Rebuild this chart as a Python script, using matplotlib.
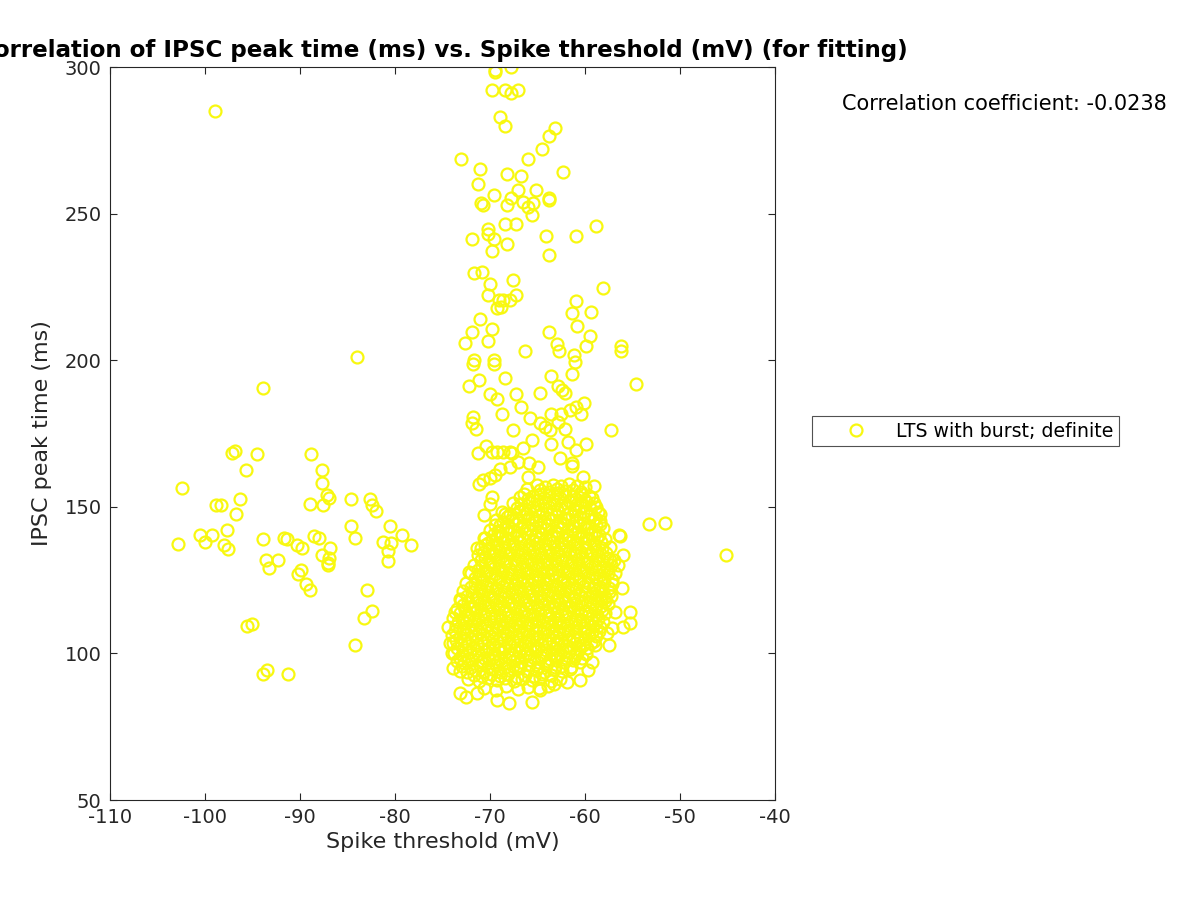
import numpy as np
import matplotlib
matplotlib.use("Agg")
import matplotlib.pyplot as plt

plt.rcParams['axes.unicode_minus'] = False

# scattered cells left of the main cluster (spike threshold mV, IPSC peak ms)
left_pts = [
    (-99.0, 285.0), (-84.0, 201.0), (-93.9, 190.4),
    (-97.2, 168.5), (-96.8, 169.0), (-95.7, 162.5), (-94.5, 168.0), (-96.3, 152.5),
    (-98.8, 150.5), (-98.3, 150.5), (-97.7, 142.0), (-96.7, 147.5), (-100.5, 140.5),
    (-100.0, 138.0), (-99.3, 140.5), (-98.0, 137.0), (-97.6, 135.5), (-102.4, 156.3),
    (-102.8, 137.2), (-93.9, 139.0), (-93.6, 132.0), (-93.3, 129.0), (-92.3, 132.0),
    (-91.7, 139.5), (-91.4, 139.0), (-90.3, 137.0), (-89.8, 136.0), (-90.2, 127.0),
    (-89.9, 128.5), (-89.4, 123.5), (-88.9, 121.5), (-89.0, 151.0), (-88.8, 168.0),
    (-88.5, 140.0), (-88.0, 139.5), (-87.7, 162.5), (-87.7, 158.0), (-87.6, 150.5),
    (-87.2, 154.0), (-86.9, 153.0), (-87.7, 133.5), (-87.1, 131.0), (-87.1, 130.0),
    (-86.9, 132.5), (-86.8, 136.0), (-84.6, 152.5), (-84.6, 143.5), (-84.2, 139.5),
    (-82.6, 152.5), (-82.4, 150.5), (-82.0, 148.5), (-81.3, 138.0), (-80.7, 131.5),
    (-80.7, 135.0), (-80.4, 137.5), (-80.5, 143.5), (-79.3, 140.5), (-78.3, 137.0),
    (-82.9, 121.5), (-82.4, 114.5), (-83.3, 112.0), (-95.6, 109.5), (-95.1, 110.0),
    (-93.9, 93.0), (-93.5, 94.5), (-91.3, 93.0), (-84.2, 103.0),
]

# cells right of the main cluster
right_pts = [
    (-53.3, 144.0), (-51.6, 144.5), (-45.2, 133.6), (-54.6, 191.9),
    (-56.2, 204.7), (-56.2, 203.2), (-57.3, 176.2),
]

# sparse upper tail of the main cluster
upper_pts = [
    (-69.5, 299.0), (-69.5, 298.4), (-67.8, 299.9), (-69.8, 292.0), (-68.4, 292.0),
    (-67.8, 291.3), (-67.1, 292.0), (-68.9, 282.8), (-68.4, 280.0), (-63.2, 279.3),
    (-63.8, 276.5), (-64.5, 272.1), (-73.1, 268.6), (-66.0, 268.6), (-71.1, 265.1),
    (-68.2, 263.6), (-66.7, 262.9), (-62.3, 264.2), (-71.3, 260.1), (-67.1, 258.0),
    (-65.2, 258.0), (-69.6, 256.4), (-67.8, 255.2), (-63.8, 255.4), (-63.8, 254.6),
    (-70.9, 253.7), (-70.7, 252.9), (-68.2, 253.0), (-66.5, 253.8), (-66.0, 252.4),
    (-65.5, 253.7), (-65.6, 249.4), (-68.4, 246.6), (-67.3, 246.6), (-58.8, 245.8),
    (-71.9, 241.5), (-70.2, 244.6), (-70.2, 243.0), (-69.6, 241.5), (-68.2, 239.5),
    (-69.8, 237.3), (-64.1, 242.4), (-61.0, 242.4), (-63.8, 235.9), (-71.7, 229.6),
    (-70.8, 230.1), (-70.0, 226.0), (-67.6, 227.3), (-58.1, 224.5), (-70.2, 222.3),
    (-67.3, 222.3), (-69.1, 220.5), (-68.6, 220.5), (-67.9, 220.5), (-69.3, 217.7),
    (-68.8, 218.3), (-61.0, 220.3), (-61.4, 216.0), (-59.4, 216.6), (-60.8, 211.7),
    (-71.1, 213.9), (-71.9, 209.7), (-69.8, 210.5), (-70.2, 206.7), (-72.6, 205.9),
    (-63.8, 209.6), (-59.5, 208.3), (-66.3, 203.2), (-63.0, 205.4), (-62.7, 203.2),
    (-59.9, 204.7), (-61.2, 201.8), (-61.1, 199.4), (-71.7, 200.1), (-69.6, 200.1),
    (-71.8, 198.7), (-69.6, 198.7), (-71.2, 193.2), (-72.2, 191.2), (-68.4, 194.0),
    (-63.6, 194.7), (-61.4, 195.3), (-70.0, 188.4), (-69.3, 186.8), (-67.3, 188.4),
    (-64.7, 188.9), (-62.8, 191.2), (-62.4, 190.0), (-62.1, 188.9), (-66.7, 184.1),
    (-68.7, 181.8), (-65.8, 180.4), (-63.6, 181.8), (-62.5, 181.8), (-61.6, 183.0),
    (-60.9, 184.1), (-60.1, 185.5), (-60.4, 181.8), (-71.8, 180.7), (-71.9, 178.5),
    (-71.5, 176.7), (-67.6, 176.2), (-64.7, 178.5), (-64.2, 177.3), (-63.7, 176.2),
    (-62.8, 179.0), (-62.1, 176.7), (-65.6, 172.8), (-63.6, 171.3), (-61.8, 172.2),
    (-59.9, 171.3), (-61.0, 169.5), (-70.4, 170.7), (-71.3, 168.4), (-69.8, 168.6),
    (-69.3, 168.6), (-68.6, 168.7), (-67.9, 168.8), (-67.7, 168.5), (-66.5, 169.9),
    (-62.6, 166.5), (-61.4, 165.0), (-61.4, 164.0), (-65.9, 165.0), (-64.9, 163.7),
    (-69.0, 163.0), (-67.9, 163.6), (-69.5, 160.8), (-70.0, 159.7), (-70.7, 159.1),
    (-71.2, 157.8), (-66.0, 160.0), (-66.8, 153.4), (-66.1, 156.2), (-60.2, 160.0),
    (-59.1, 157.1), (-69.8, 153.4), (-70.0, 150.9), (-70.6, 147.1), (-68.4, 147.7),
    (-58.4, 147.7), (-58.4, 144.3), (-69.5, 143.8), (-69.0, 141.5), (-70.5, 139.2),
    (-56.4, 140.4), (-67.05, 165.3),
]

# outline of the dense cluster
edge_pts = [
    (-72.2, 127.9), (-74.4, 109.1), (-73.7, 114.2), (-73.2, 118.7), (-71.4, 135.8),
    (-70.5, 137.0), (-56.3, 140.0), (-56.0, 133.6), (-56.1, 122.2), (-56.8, 127.3),
    (-56.5, 130.1), (-57.0, 131.9), (-55.3, 114.2), (-55.3, 110.2), (-56.0, 109.1),
    (-56.8, 114.2), (-57.2, 108.5), (-57.7, 106.8), (-57.5, 102.9), (-58.9, 102.9),
    (-59.3, 97.2), (-59.7, 94.3), (-60.5, 90.9), (-61.9, 90.3), (-63.3, 89.5),
    (-64.7, 87.5), (-65.6, 83.5), (-68.0, 83.2), (-69.3, 84.1), (-71.4, 86.4),
    (-72.5, 85.2), (-73.2, 86.5), (-63.2, 99.5), (-58.3, 118.7), (-57.9, 119.3),
    (-74.2, 103.4), (-74.0, 100.0), (-73.9, 94.9),
]

# dense core of the cluster
core_pts = [
    (-70.6, 88.3), (-69.4, 87.6), (-68.3, 88.9), (-67.1, 87.9), (-66.0, 88.6), (-64.8, 88.1), (-63.9, 89.0),
    (-72.3, 91.2), (-71.2, 90.6), (-70.2, 91.5), (-69.3, 90.8), (-68.4, 91.6), (-67.5, 90.7), (-66.6, 91.4),
    (-65.6, 90.9), (-64.7, 91.7), (-63.6, 90.5), (-62.6, 91.3),
    (-73.2, 94.1), (-72.4, 93.6), (-71.6, 94.4), (-70.7, 93.8), (-69.8, 94.6), (-68.9, 93.7), (-68.0, 94.3),
    (-67.1, 94.9), (-66.1, 93.9), (-65.2, 94.5), (-64.3, 93.8), (-63.3, 94.6), (-62.4, 94.0), (-61.6, 94.8),
    (-73.5, 97.3), (-72.7, 96.8), (-71.9, 97.6), (-71.0, 96.9), (-70.1, 97.8), (-69.3, 97.1), (-68.4, 96.6),
    (-67.6, 97.5), (-66.7, 97.0), (-65.8, 97.9), (-64.9, 97.2), (-64.0, 96.7), (-63.1, 97.6), (-62.2, 97.1),
    (-61.3, 97.8), (-60.5, 96.9),
    (-73.8, 100.2), (-73.0, 99.6), (-72.1, 100.5), (-71.3, 99.8), (-70.4, 100.7), (-69.6, 99.9), (-68.7, 100.4),
    (-67.8, 99.7), (-67.0, 100.6), (-66.1, 100.0), (-65.2, 100.8), (-64.4, 99.6), (-63.5, 100.3), (-62.6, 99.8),
    (-61.7, 100.6), (-60.8, 100.1), (-59.9, 99.7),
    (-73.9, 103.4), (-73.1, 102.8), (-72.3, 103.6), (-71.4, 102.9), (-70.6, 103.7), (-69.7, 103.1), (-68.9, 102.6),
    (-68.0, 103.5), (-67.2, 102.9), (-66.3, 103.8), (-65.5, 103.0), (-64.6, 102.7), (-63.8, 103.6), (-62.9, 103.1),
    (-62.0, 102.6), (-61.1, 103.4), (-60.2, 102.9), (-59.4, 103.5),
    (-74.0, 106.2), (-73.2, 105.7), (-72.4, 106.5), (-71.6, 105.9), (-70.7, 106.7), (-69.9, 106.0), (-69.0, 105.6),
    (-68.2, 106.4), (-67.3, 105.8), (-66.5, 106.6), (-65.6, 106.1), (-64.8, 105.5), (-63.9, 106.3), (-63.1, 105.9),
    (-62.2, 106.8), (-61.3, 106.0), (-60.5, 105.6), (-59.6, 106.4), (-58.8, 105.9),
    (-73.6, 109.4), (-72.8, 108.8), (-71.9, 109.6), (-71.1, 109.0), (-70.3, 109.8), (-69.4, 109.1), (-68.6, 108.7),
    (-67.7, 109.5), (-66.9, 108.9), (-66.0, 109.7), (-65.2, 109.2), (-64.3, 108.6), (-63.5, 109.4), (-62.6, 109.0),
    (-61.8, 109.8), (-60.9, 109.1), (-60.1, 108.6), (-59.2, 109.3), (-58.4, 108.9),
    (-73.9, 112.1), (-73.0, 111.6), (-72.2, 112.5), (-71.3, 111.8), (-70.5, 112.7), (-69.6, 112.0), (-68.8, 111.5),
    (-67.9, 112.3), (-67.1, 111.7), (-66.2, 112.6), (-65.4, 112.1), (-64.5, 111.4), (-63.7, 112.2), (-62.8, 111.8),
    (-62.0, 112.7), (-61.1, 111.9), (-60.3, 111.4), (-59.4, 112.2), (-58.6, 111.7),
    (-73.5, 115.3), (-72.6, 114.8), (-71.8, 115.6), (-70.9, 115.0), (-70.1, 115.8), (-69.2, 115.1), (-68.4, 114.7),
    (-67.5, 115.5), (-66.7, 114.9), (-65.8, 115.7), (-65.0, 115.2), (-64.1, 114.6), (-63.3, 115.4), (-62.4, 115.0),
    (-61.6, 115.8), (-60.7, 115.1), (-59.9, 114.6), (-59.0, 115.3), (-58.2, 114.8),
    (-73.1, 118.2), (-72.3, 117.7), (-71.4, 118.5), (-70.6, 117.9), (-69.7, 118.7), (-68.9, 118.0), (-68.0, 117.6),
    (-67.2, 118.4), (-66.3, 117.8), (-65.5, 118.6), (-64.6, 118.1), (-63.8, 117.5), (-62.9, 118.3), (-62.1, 117.9),
    (-61.2, 118.7), (-60.4, 118.0), (-59.5, 117.5), (-58.7, 118.2), (-57.9, 117.8),
    (-72.8, 121.4), (-71.9, 120.8), (-71.1, 121.6), (-70.2, 121.0), (-69.4, 121.8), (-68.5, 121.1), (-67.7, 120.7),
    (-66.8, 121.5), (-66.0, 120.9), (-65.1, 121.7), (-64.3, 121.2), (-63.4, 120.6), (-62.6, 121.4), (-61.7, 121.0),
    (-60.9, 121.8), (-60.0, 121.1), (-59.2, 120.6), (-58.3, 121.3), (-57.5, 120.9),
    (-72.5, 124.1), (-71.6, 123.6), (-70.8, 124.5), (-69.9, 123.8), (-69.1, 124.7), (-68.2, 124.0), (-67.4, 123.5),
    (-66.5, 124.3), (-65.7, 123.7), (-64.8, 124.6), (-64.0, 124.1), (-63.1, 123.4), (-62.3, 124.2), (-61.4, 123.8),
    (-60.6, 124.7), (-59.7, 123.9), (-58.9, 123.4), (-58.0, 124.2), (-57.2, 123.7),
    (-72.0, 127.3), (-71.2, 126.8), (-70.3, 127.6), (-69.5, 127.0), (-68.6, 127.8), (-67.8, 127.1), (-66.9, 126.7),
    (-66.1, 127.5), (-65.2, 126.9), (-64.4, 127.7), (-63.5, 127.2), (-62.7, 126.6), (-61.8, 127.4), (-61.0, 127.0),
    (-60.1, 127.8), (-59.3, 127.1), (-58.4, 126.6), (-57.6, 127.3),
    (-71.7, 130.2), (-70.8, 129.7), (-70.0, 130.5), (-69.1, 129.9), (-68.3, 130.7), (-67.4, 130.0), (-66.6, 129.6),
    (-65.7, 130.4), (-64.9, 129.8), (-64.0, 130.6), (-63.2, 130.1), (-62.3, 129.5), (-61.5, 130.3), (-60.6, 129.9),
    (-59.8, 130.7), (-58.9, 130.0), (-58.1, 129.5), (-57.3, 130.2),
    (-71.3, 133.4), (-70.5, 132.8), (-69.6, 133.6), (-68.8, 133.0), (-67.9, 133.8), (-67.1, 133.1), (-66.2, 132.7),
    (-65.4, 133.5), (-64.5, 132.9), (-63.7, 133.7), (-62.8, 133.2), (-62.0, 132.6), (-61.1, 133.4), (-60.3, 133.0),
    (-59.4, 133.8), (-58.6, 133.1), (-57.7, 132.6),
    (-71.0, 136.1), (-70.1, 135.6), (-69.3, 136.5), (-68.4, 135.8), (-67.6, 136.7), (-66.7, 136.0), (-65.9, 135.5),
    (-65.0, 136.3), (-64.2, 135.7), (-63.3, 136.6), (-62.5, 136.1), (-61.6, 135.4), (-60.8, 136.2), (-59.9, 135.8),
    (-59.1, 136.7), (-58.2, 135.9), (-57.4, 136.4),
    (-70.6, 139.3), (-69.8, 138.8), (-68.9, 139.6), (-68.1, 139.0), (-67.2, 139.8), (-66.4, 139.1), (-65.5, 138.7),
    (-64.7, 139.5), (-63.8, 138.9), (-63.0, 139.7), (-62.1, 139.2), (-61.3, 138.6), (-60.4, 139.4), (-59.6, 139.0),
    (-58.7, 139.8), (-57.9, 139.1),
    (-70.0, 142.2), (-69.2, 141.7), (-68.3, 142.5), (-67.5, 141.9), (-66.6, 142.7), (-65.8, 142.0), (-64.9, 141.6),
    (-64.1, 142.4), (-63.2, 141.8), (-62.4, 142.6), (-61.5, 142.1), (-60.7, 141.5), (-59.8, 142.3), (-59.0, 141.9),
    (-58.1, 142.6),
    (-69.4, 145.4), (-68.6, 144.8), (-67.7, 145.6), (-66.9, 145.0), (-66.0, 145.8), (-65.2, 145.1), (-64.3, 144.7),
    (-63.5, 145.5), (-62.6, 144.9), (-61.8, 145.7), (-60.9, 145.2), (-60.1, 144.6), (-59.2, 145.4), (-58.4, 145.0),
    (-68.7, 148.1), (-67.9, 147.6), (-67.0, 148.5), (-66.2, 147.8), (-65.3, 148.7), (-64.5, 148.0), (-63.6, 147.5),
    (-62.8, 148.3), (-61.9, 147.7), (-61.1, 148.6), (-60.2, 148.1), (-59.4, 147.4), (-58.6, 148.2),
    (-67.6, 151.3), (-66.7, 150.8), (-65.9, 151.6), (-65.0, 151.0), (-64.2, 151.8), (-63.3, 151.1), (-62.5, 150.7),
    (-61.6, 151.5), (-60.8, 150.9), (-59.9, 151.7), (-59.1, 151.2),
    (-66.4, 154.2), (-65.5, 153.7), (-64.7, 154.5), (-63.8, 153.9), (-63.0, 154.7), (-62.1, 154.0), (-61.3, 153.6),
    (-60.4, 154.4), (-59.6, 153.8),
    (-65.1, 157.3), (-64.2, 156.8), (-63.4, 157.6), (-62.5, 157.0), (-61.7, 157.8), (-60.8, 157.1), (-60.0, 156.6),
]

# more cells packed between the core rows
core_fill_pts = [
    (-71.7, 92.8), (-70.8, 92.2), (-69.9, 93.0), (-69.0, 92.4), (-68.1, 92.9), (-67.2, 92.1), (-66.3, 92.7),
    (-65.4, 92.3), (-64.5, 93.0), (-63.6, 92.5),
    (-72.9, 95.7), (-72.0, 95.2), (-71.1, 96.0), (-70.2, 95.4), (-69.4, 95.9), (-68.5, 95.1), (-67.6, 95.8),
    (-66.8, 95.3), (-65.9, 96.0), (-65.0, 95.5), (-64.1, 95.9), (-63.2, 95.2), (-62.4, 95.7), (-61.5, 95.3),
    (-73.2, 98.6), (-72.3, 98.2), (-71.5, 99.0), (-70.6, 98.4), (-69.7, 98.9), (-68.9, 98.1), (-68.0, 98.8),
    (-67.2, 98.3), (-66.3, 99.0), (-65.4, 98.5), (-64.6, 98.9), (-63.7, 98.2), (-62.9, 98.7), (-62.0, 98.3),
    (-61.1, 99.0), (-60.3, 98.4),
    (-73.5, 101.7), (-72.6, 101.2), (-71.8, 102.0), (-70.9, 101.4), (-70.1, 101.9), (-69.2, 101.1), (-68.4, 101.8),
    (-67.5, 101.3), (-66.6, 102.0), (-65.8, 101.5), (-64.9, 101.9), (-64.1, 101.2), (-63.2, 101.7), (-62.4, 101.3),
    (-61.5, 102.0), (-60.6, 101.4), (-59.8, 101.8),
    (-73.6, 104.6), (-72.7, 104.2), (-71.9, 105.0), (-71.0, 104.4), (-70.2, 104.9), (-69.3, 104.1), (-68.5, 104.8),
    (-67.6, 104.3), (-66.8, 105.0), (-65.9, 104.5), (-65.1, 104.9), (-64.2, 104.2), (-63.4, 104.7), (-62.5, 104.3),
    (-61.7, 105.0), (-60.8, 104.4), (-60.0, 104.8), (-59.1, 104.2),
    (-73.7, 107.7), (-72.8, 107.2), (-72.0, 108.0), (-71.2, 107.4), (-70.3, 107.9), (-69.5, 107.1), (-68.6, 107.8),
    (-67.8, 107.3), (-66.9, 108.0), (-66.1, 107.5), (-65.2, 107.9), (-64.4, 107.2), (-63.5, 107.7), (-62.7, 107.3),
    (-61.8, 108.0), (-61.0, 107.4), (-60.1, 107.8), (-59.3, 107.2), (-58.5, 107.7),
    (-73.4, 110.6), (-72.5, 110.2), (-71.7, 111.0), (-70.8, 110.4), (-70.0, 110.9), (-69.1, 110.1), (-68.3, 110.8),
    (-67.4, 110.3), (-66.6, 111.0), (-65.7, 110.5), (-64.9, 110.9), (-64.0, 110.2), (-63.2, 110.7), (-62.3, 110.3),
    (-61.5, 111.0), (-60.6, 110.4), (-59.8, 110.8), (-58.9, 110.2), (-58.1, 110.7),
    (-73.2, 113.7), (-72.3, 113.2), (-71.5, 114.0), (-70.6, 113.4), (-69.8, 113.9), (-68.9, 113.1), (-68.1, 113.8),
    (-67.2, 113.3), (-66.4, 114.0), (-65.5, 113.5), (-64.7, 113.9), (-63.8, 113.2), (-63.0, 113.7), (-62.1, 113.3),
    (-61.3, 114.0), (-60.4, 113.4), (-59.6, 113.8), (-58.7, 113.2), (-57.9, 113.7),
    (-72.8, 116.6), (-71.9, 116.2), (-71.1, 117.0), (-70.2, 116.4), (-69.4, 116.9), (-68.5, 116.1), (-67.7, 116.8),
    (-66.8, 116.3), (-66.0, 117.0), (-65.1, 116.5), (-64.3, 116.9), (-63.4, 116.2), (-62.6, 116.7), (-61.7, 116.3),
    (-60.9, 117.0), (-60.0, 116.4), (-59.2, 116.8), (-58.3, 116.2), (-57.6, 116.7),
    (-72.4, 119.7), (-71.5, 119.2), (-70.7, 120.0), (-69.8, 119.4), (-69.0, 119.9), (-68.1, 119.1), (-67.3, 119.8),
    (-66.4, 119.3), (-65.6, 120.0), (-64.7, 119.5), (-63.9, 119.9), (-63.0, 119.2), (-62.2, 119.7), (-61.3, 119.3),
    (-60.5, 120.0), (-59.6, 119.4), (-58.8, 119.8), (-57.9, 119.2), (-57.3, 119.7),
    (-72.0, 122.6), (-71.1, 122.2), (-70.3, 123.0), (-69.4, 122.4), (-68.6, 122.9), (-67.7, 122.1), (-66.9, 122.8),
    (-66.0, 122.3), (-65.2, 123.0), (-64.3, 122.5), (-63.5, 122.9), (-62.6, 122.2), (-61.8, 122.7), (-60.9, 122.3),
    (-60.1, 123.0), (-59.2, 122.4), (-58.4, 122.8), (-57.5, 122.2),
    (-71.6, 125.7), (-70.7, 125.2), (-69.9, 126.0), (-69.0, 125.4), (-68.2, 125.9), (-67.3, 125.1), (-66.5, 125.8),
    (-65.6, 125.3), (-64.8, 126.0), (-63.9, 125.5), (-63.1, 125.9), (-62.2, 125.2), (-61.4, 125.7), (-60.5, 125.3),
    (-59.7, 126.0), (-58.8, 125.4), (-58.0, 125.8), (-57.2, 125.2),
    (-71.3, 128.6), (-70.4, 128.2), (-69.6, 129.0), (-68.7, 128.4), (-67.9, 128.9), (-67.0, 128.1), (-66.2, 128.8),
    (-65.3, 128.3), (-64.5, 129.0), (-63.6, 128.5), (-62.8, 128.9), (-61.9, 128.2), (-61.1, 128.7), (-60.2, 128.3),
    (-59.4, 129.0), (-58.5, 128.4), (-57.7, 128.8),
    (-70.9, 131.7), (-70.0, 131.2), (-69.2, 132.0), (-68.3, 131.4), (-67.5, 131.9), (-66.6, 131.1), (-65.8, 131.8),
    (-64.9, 131.3), (-64.1, 132.0), (-63.2, 131.5), (-62.4, 131.9), (-61.5, 131.2), (-60.7, 131.7), (-59.8, 131.3),
    (-59.0, 132.0), (-58.1, 131.4), (-57.4, 131.8),
    (-70.6, 134.6), (-69.7, 134.2), (-68.9, 135.0), (-68.0, 134.4), (-67.2, 134.9), (-66.3, 134.1), (-65.5, 134.8),
    (-64.6, 134.3), (-63.8, 135.0), (-62.9, 134.5), (-62.1, 134.9), (-61.2, 134.2), (-60.4, 134.7), (-59.5, 134.3),
    (-58.7, 135.0), (-57.8, 134.4),
    (-70.2, 137.7), (-69.3, 137.2), (-68.5, 138.0), (-67.6, 137.4), (-66.8, 137.9), (-65.9, 137.1), (-65.1, 137.8),
    (-64.2, 137.3), (-63.4, 138.0), (-62.5, 137.5), (-61.7, 137.9), (-60.8, 137.2), (-60.0, 137.7), (-59.1, 137.3),
    (-58.3, 138.0),
    (-69.6, 140.6), (-68.7, 140.2), (-67.9, 141.0), (-67.0, 140.4), (-66.2, 140.9), (-65.3, 140.1), (-64.5, 140.8),
    (-63.6, 140.3), (-62.8, 141.0), (-61.9, 140.5), (-61.1, 140.9), (-60.2, 140.2), (-59.4, 140.7), (-58.5, 140.3),
    (-69.0, 143.7), (-68.1, 143.2), (-67.3, 144.0), (-66.4, 143.4), (-65.6, 143.9), (-64.7, 143.1), (-63.9, 143.8),
    (-63.0, 143.3), (-62.2, 144.0), (-61.3, 143.5), (-60.5, 143.9), (-59.6, 143.2), (-58.8, 143.7),
    (-68.2, 146.6), (-67.3, 146.2), (-66.5, 147.0), (-65.6, 146.4), (-64.8, 146.9), (-63.9, 146.1), (-63.1, 146.8),
    (-62.2, 146.3), (-61.4, 147.0), (-60.5, 146.5), (-59.7, 146.9), (-58.9, 146.2),
    (-67.2, 149.7), (-66.3, 149.2), (-65.5, 150.0), (-64.6, 149.4), (-63.8, 149.9), (-62.9, 149.1), (-62.1, 149.8),
    (-61.2, 149.3), (-60.4, 150.0), (-59.5, 149.5), (-58.8, 149.9),
    (-66.0, 152.6), (-65.1, 152.2), (-64.3, 153.0), (-63.4, 152.4), (-62.6, 152.9), (-61.7, 152.1), (-60.9, 152.8),
    (-60.0, 152.3), (-59.3, 152.9),
    (-64.7, 155.7), (-63.8, 155.2), (-63.0, 156.0), (-62.1, 155.4), (-61.3, 155.9), (-60.4, 155.1),
]

x_ticks = [-110, -100, -90, -80, -70, -60, -50, -40]
y_ticks = [50, 100, 150, 200, 250, 300]
corr_coef = -0.0238

pts = np.array(left_pts + right_pts + upper_pts + edge_pts + core_pts + core_fill_pts)
threshold = pts[:, 0]
peak_time = pts[:, 1]

dark = '#262626'
fig = plt.figure(figsize=(12, 9), dpi=100)
ax = fig.add_axes([110 / 1200, 100 / 900, 665 / 1200, 733 / 900])

ax.plot(threshold, peak_time, 'o', linestyle='none', mfc='none', mec='#f8f810',
        ms=8.6, mew=1.6, label='LTS with burst; definite')

ax.set_xlim(-110, -40)
ax.set_ylim(50, 300)
ax.set_xticks(x_ticks)
ax.set_yticks(y_ticks)
ax.tick_params(direction='in', length=5, width=0.8, top=True, right=True,
               labelsize=14, colors=dark, pad=6)
for sp in ax.spines.values():
    sp.set_color(dark)
    sp.set_linewidth(0.8)

ax.set_xlabel('Spike threshold (mV)', fontsize=16, color=dark, labelpad=3)
ax.set_ylabel('IPSC peak time (ms)', fontsize=16, color=dark, labelpad=9)
ax.set_title('Correlation of IPSC peak time (ms) vs. Spike threshold (mV) (for fitting)',
             fontsize=16.6, fontweight='bold', color='black', pad=7)

fig.text(842 / 1200, 1 - 104 / 900, f'Correlation coefficient: {corr_coef}',
         fontsize=15, color='black', va='center', ha='left')

leg = fig.legend(loc='upper left', bbox_to_anchor=(812 / 1200, 1 - 416 / 900),
                 fontsize=13.6, frameon=True, fancybox=False, handlelength=4.1,
                 handletextpad=0.05, borderpad=0.3, borderaxespad=0)
leg.get_frame().set_edgecolor(dark)
leg.get_frame().set_linewidth(0.8)

fig.savefig('out.png', dpi=100)
